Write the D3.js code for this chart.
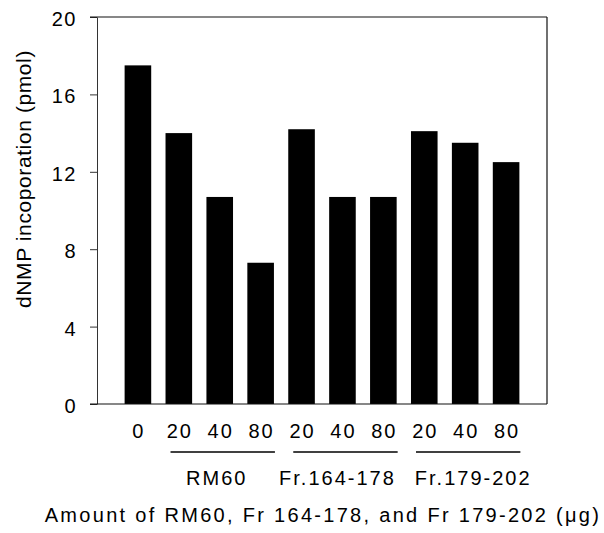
<!DOCTYPE html>
<html lang="en">
<head>
    <meta charset="UTF-8">
    <title>dNMP incoporation</title>
    <script src="https://d3js.org/d3.v7.min.js"></script>
    <style>
        body { margin: 0; background: #fff; }
        text { font-family: "Liberation Sans", Arial, sans-serif; fill: #000; }
    </style>
</head>
<body>

<svg width="604" height="533"></svg>

<script>

    // data
    var doses = ['0', '20', '40', '80', '20', '40', '80', '20', '40', '80'];
    var values = [17.5, 14.0, 10.7, 7.3, 14.2, 10.7, 10.7, 14.1, 13.5, 12.5];
    var groups = ['RM60', 'Fr.164-178', 'Fr.179-202'];
    var groupStart = [1, 4, 7];
    var groupEnd = [3, 6, 9];
    var yTicks = [0, 4, 8, 12, 16, 20];

    var svg = d3.select('svg');
    // plot box (note: "top" is reserved on window, so use other names)
    var plotL = 97, plotR = 547, plotT = 17, plotB = 404;

    var x = d3.scaleBand()
        .domain(d3.range(values.length))
        .range([plotL, plotR])
        .paddingInner(0.35)
        .paddingOuter(0.675);

    var y = d3.scaleLinear()
        .domain([0, 20])
        .range([plotB, plotT]);

    // bars
    svg.append('g').selectAll('rect')
        .data(values)
        .enter()
        .append('rect')
        .attr('x', function (d, i) { return x(i); })
        .attr('y', function (d) { return y(d); })
        .attr('width', x.bandwidth())
        .attr('height', function (d) { return y(0) - y(d); })
        .attr('fill', '#000');

    // y axis
    var yAxis = svg.append('g')
        .attr('transform', 'translate(' + plotL + ',0)')
        .call(d3.axisLeft(y).tickValues(yTicks).tickSize(7).tickPadding(13).tickSizeOuter(0));
    yAxis.select('.domain').attr('stroke', '#333');
    yAxis.selectAll('.tick line').attr('stroke', '#333');
    yAxis.selectAll('.tick text')
        .style('font-family', '"Liberation Sans", Arial, sans-serif')
        .style('font-size', '20px')
        .style('letter-spacing', '1.5px')
        .attr('dy', '0.42em')
        .attr('fill', '#000');

    // frame: top, right, bottom
    var frame = svg.append('g').attr('stroke', '#111').attr('stroke-width', 1.2).attr('fill', 'none');
    frame.append('line').attr('x1', plotL - 7).attr('x2', plotR).attr('y1', y(20)).attr('y2', y(20));
    frame.append('line').attr('x1', plotR).attr('x2', plotR).attr('y1', y(20)).attr('y2', y(0));
    frame.append('line').attr('x1', plotL - 7).attr('x2', plotR).attr('y1', y(0)).attr('y2', y(0));

    // dose labels under bars
    svg.append('g').selectAll('text')
        .data(doses)
        .enter()
        .append('text')
        .attr('x', function (d, i) { return x(i) + x.bandwidth() / 2 + 1; })
        .attr('y', 438)
        .attr('text-anchor', 'middle')
        .style('font-size', '20px')
        .style('letter-spacing', '2px')
        .text(function (d) { return d; });

    // group lines and names
    var gg = svg.append('g').selectAll('g')
        .data(groups)
        .enter()
        .append('g');

    gg.append('line')
        .attr('x1', function (d, i) { return x(groupStart[i]) + 5; })
        .attr('x2', function (d, i) { return x(groupEnd[i]) + x.bandwidth() + 1; })
        .attr('y1', 452)
        .attr('y2', 452)
        .attr('stroke', '#000')
        .attr('stroke-width', 1.6);

    // names sit a little off-centre in the original
    var nudge = [-3, -5, 8];
    gg.append('text')
        .attr('x', function (d, i) { return (x(groupStart[i]) + x(groupEnd[i]) + x.bandwidth()) / 2 + nudge[i]; })
        .attr('y', 485)
        .attr('text-anchor', 'middle')
        .style('font-size', '20px')
        .style('letter-spacing', '2px')
        .text(function (d) { return d; });

    // axis titles
    svg.append('text')
        .attr('x', (plotL + plotR) / 2 + 1)
        .attr('y', 522)
        .attr('text-anchor', 'middle')
        .style('font-size', '20px')
        .style('letter-spacing', '2.3px')
        .text('Amount of RM60, Fr 164-178, and Fr 179-202 (\u03bcg)');

    svg.append('text')
        .attr('transform', 'translate(31,179) rotate(-90)')
        .attr('text-anchor', 'middle')
        .style('font-size', '21px')
        .style('letter-spacing', '0.6px')
        .text('dNMP incoporation (pmol)');

</script>
</body>
</html>
